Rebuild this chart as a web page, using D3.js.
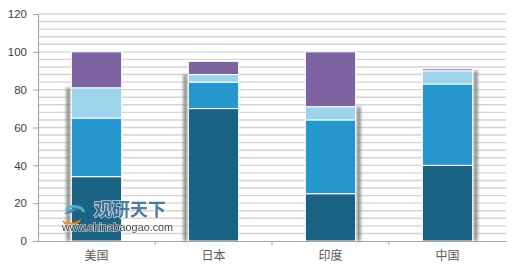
<!DOCTYPE html>
<html><head><meta charset="utf-8">
<script src="https://cdn.jsdelivr.net/npm/d3@7/dist/d3.min.js"></script>
<style>body{margin:0;background:#fff}svg{display:block}</style>
</head><body><svg id="c" width="520" height="276"></svg>
<script>
const categories = ["美国","日本","印度","中国"];
const seriesA = [34, 70, 25, 40];
const seriesB = [31, 14, 39, 43];
const seriesC = [16, 4, 7, 7];
const seriesD = [19, 7, 29, 1];
const yTicks = [0,20,40,60,80,100,120];
const colors = ["#1b6384","#2597cc","#9dd4ec","#7e63a3"];
const shadowSide = [-1,-1,1,1];

const svg = d3.select("#c");
const m = {l:38, r:14, t:14, b:35};
const W = 520, H = 276;
const x = d3.scaleBand().domain(categories).range([m.l, W - m.r]).paddingInner(0.57).paddingOuter(0.285);
const xb = d3.scaleBand().domain(categories).range([m.l, W - m.r]);
const y = d3.scaleLinear().domain([0,120]).range([H - m.b, m.t]);

const defs = svg.append("defs");
defs.append("filter").attr("id","blur").attr("x","-2").attr("width","5").append("feGaussianBlur").attr("stdDeviation",1.6);

// minor gridlines every 4
const grid = d3.range(4, 121, 4);
svg.append("g").selectAll("line").data(grid).join("line")
  .attr("x1", m.l).attr("x2", W - m.r)
  .attr("y1", d => y(d)).attr("y2", d => y(d))
  .attr("stroke", "#d4d4d4").attr("stroke-width", 1.4);

const rows = categories.map((c,i) => ({cat:c, A:seriesA[i], B:seriesB[i], C:seriesC[i], D:seriesD[i], i}));
const stack = d3.stack().keys(["A","B","C","D"])(rows);

// shadows
svg.append("g").selectAll("rect").data(rows).join("rect")
  .attr("x", d => shadowSide[d.i] < 0 ? x(d.cat) - 5 : x(d.cat) + x.bandwidth() + 1)
  .attr("width", 4)
  .attr("y", d => y(d.A + d.B + d.C))
  .attr("height", d => y(0) - y(d.A + d.B + d.C))
  .attr("fill", "#8a8a8a").attr("filter","url(#blur)");

svg.append("g").selectAll("g").data(stack).join("g")
  .attr("fill", (d,i) => colors[i])
  .selectAll("rect").data(d => d).join("rect")
  .attr("x", d => x(d.data.cat)).attr("width", x.bandwidth())
  .attr("y", d => y(d[1])).attr("height", d => y(d[0]) - y(d[1]))
  .attr("stroke", "#ffffff").attr("stroke-width", 1);

// y axis
const ya = svg.append("g").attr("transform", `translate(${m.l},0)`)
  .call(d3.axisLeft(y).tickValues(yTicks).tickSize(5).tickPadding(6));
ya.select(".domain").attr("stroke", "#a6a6a6").attr("stroke-width",1.2);
ya.selectAll(".tick line").attr("stroke", "#a6a6a6");
ya.selectAll("text").attr("font-family","Liberation Sans, Arial, sans-serif").attr("font-size",11.5).attr("fill","#404040");

// x axis
const xa = svg.append("g").attr("transform", `translate(0,${y(0)})`)
  .call(d3.axisBottom(xb).tickSize(0).tickPadding(10));
xa.select(".domain").attr("stroke", "#a6a6a6").attr("stroke-width",1.2);
xa.selectAll("text").attr("font-family","Noto Sans CJK SC, sans-serif").attr("font-size",12).attr("fill","#595959");
svg.append("g").selectAll("line").data(categories.slice(1)).join("line")
  .attr("x1", d => xb(d)).attr("x2", d => xb(d))
  .attr("y1", y(0)).attr("y2", y(0) + 4).attr("stroke", "#a6a6a6");

// watermark
const wm = svg.append("g").attr("opacity", 0.9);
wm.append("path").attr("d","M64,214 q8,-9 18,-4 q-6,-2 -10,3 z").attr("fill","#3a8fb7");
wm.append("path").attr("d","M66,210 a10,8 0 0 1 18,2").attr("fill","none").attr("stroke","#5aaed0").attr("stroke-width",3);
wm.append("path").attr("d","M62,220 q10,6 20,-2 q-4,8 -12,8 q-6,0 -8,-6 z").attr("fill","#f08a1c");
wm.append("text").attr("x",94).attr("y",216).text("观研天下")
  .attr("font-family","Noto Sans CJK SC, sans-serif").attr("font-weight","bold").attr("font-size",18).attr("fill","#3e6f91")
  .attr("stroke","#ffffff").attr("stroke-width",1.5).attr("paint-order","stroke").attr("stroke-opacity",0.8);
wm.append("text").attr("x",62).attr("y",231).text("www.chinabaogao.com")
  .attr("font-family","Liberation Sans, Arial, sans-serif").attr("font-size",10.8).attr("fill","#333")
  .attr("stroke","#ffffff").attr("stroke-width",1.5).attr("paint-order","stroke").attr("stroke-opacity",0.7);
</script></body></html>
